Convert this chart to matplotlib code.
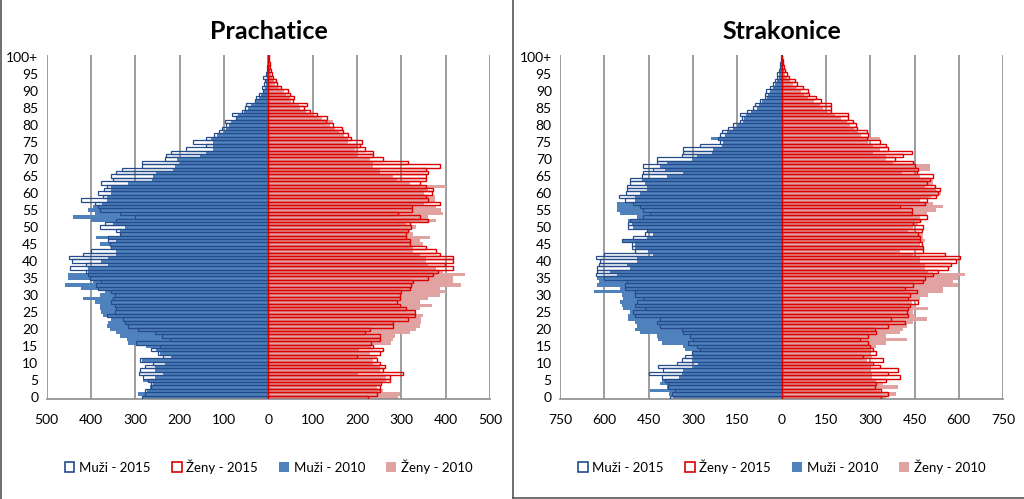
import numpy as np
import matplotlib.pyplot as plt
from matplotlib.patches import Patch

plt.rcParams['font.family'] = ['Lato', 'DejaVu Sans']

ages = np.arange(0, 101)
age_labels = [str(a) if a < 100 else '100+' for a in range(0, 101, 5)]

# Prachatice (age 0 .. 100+)
prach_muzi_2015 = [286, 279, 279, 264, 264, 271, 283, 292, 290, 279, 260, 290, 237, 248, 264, 245, 298, 223, 241, 256,
                   294, 317, 324, 328, 365, 346, 343, 346, 354, 350, 346, 354, 384, 388, 377, 403, 407, 411, 448, 411,
                   442, 450, 418, 399, 354, 358, 362, 362, 335, 343, 380, 369, 343, 301, 335, 380, 384, 392, 422, 373,
                   384, 371, 365, 377, 350, 354, 343, 331, 286, 286, 234, 230, 219, 185, 140, 171, 140, 123, 111, 104,
                   95, 98, 72, 81, 60, 52, 50, 31, 28, 21, 12, 14, 10, 8, 12, 5, 3, 3, 2, 1, 2]
prach_zeny_2015 = [225, 244, 251, 251, 255, 274, 274, 304, 259, 262, 251, 244, 199, 251, 259, 236, 232, 251, 251, 217,
                   229, 281, 281, 315, 330, 330, 311, 296, 289, 296, 296, 300, 319, 322, 326, 360, 371, 383, 417, 398,
                   417, 417, 386, 379, 356, 319, 319, 311, 311, 315, 322, 319, 360, 341, 292, 325, 325, 386, 360, 356,
                   368, 371, 356, 341, 356, 356, 360, 356, 386, 315, 259, 236, 236, 217, 206, 210, 187, 180, 168, 165,
                   146, 131, 132, 110, 93, 80, 86, 56, 57, 48, 44, 29, 20, 18, 10, 8, 5, 4, 3, 2, 2]
prach_muzi_2010 = [283, 294, 274, 267, 260, 283, 256, 237, 256, 256, 234, 286, 219, 245, 253, 275, 316, 320, 335, 343,
                   358, 365, 362, 354, 373, 377, 380, 380, 392, 418, 380, 369, 422, 458, 395, 452, 452, 407, 407, 362,
                   377, 362, 343, 343, 354, 380, 343, 388, 335, 335, 324, 350, 399, 440, 392, 407, 395, 375, 365, 365,
                   354, 354, 354, 317, 262, 260, 253, 215, 210, 200, 207, 155, 140, 125, 125, 125, 130, 117, 100, 95,
                   88, 85, 70, 68, 55, 45, 40, 28, 22, 16, 12, 8, 6, 5, 4, 3, 2, 2, 1, 1, 1]
prach_zeny_2010 = [292, 296, 259, 244, 251, 266, 266, 202, 251, 251, 236, 236, 244, 229, 205, 232, 277, 281, 286, 319,
                   334, 341, 345, 345, 349, 334, 341, 368, 341, 360, 386, 401, 386, 434, 417, 417, 443, 394, 379, 360,
                   356, 356, 341, 326, 326, 349, 341, 364, 326, 319, 334, 311, 379, 360, 394, 390, 379, 350, 375, 375,
                   350, 360, 401, 319, 289, 281, 251, 251, 236, 236, 230, 202, 202, 195, 198, 180, 180, 170, 160, 150,
                   140, 146, 120, 100, 85, 72, 70, 50, 48, 40, 35, 24, 16, 12, 8, 6, 4, 3, 2, 1, 1]

# Strakonice (age 0 .. 100+)
strak_muzi_2015 = [378, 372, 361, 384, 384, 395, 406, 448, 400, 417, 355, 338, 327, 305, 276, 288, 316, 299, 310, 333,
                   338, 412, 423, 412, 496, 502, 462, 496, 491, 470, 496, 496, 530, 530, 524, 603, 628, 626, 624, 617,
                   615, 628, 603, 496, 507, 507, 541, 502, 462, 457, 519, 519, 513, 468, 446, 468, 479, 502, 530, 549,
                   527, 522, 525, 515, 513, 474, 470, 434, 470, 423, 423, 338, 335, 333, 276, 210, 215, 209, 203, 180,
                   164, 141, 135, 141, 118, 96, 90, 73, 56, 56, 53, 40, 30, 23, 17, 15, 8, 6, 4, 2, 2]
strak_zeny_2015 = [338, 361, 338, 316, 321, 355, 400, 361, 395, 333, 310, 344, 276, 321, 310, 299, 293, 265, 293, 321,
                   316, 361, 417, 372, 429, 423, 429, 434, 462, 429, 434, 457, 417, 446, 479, 485, 513, 530, 564, 575,
                   592, 603, 553, 479, 479, 474, 468, 468, 462, 474, 479, 446, 468, 491, 440, 440, 400, 485, 491, 524,
                   530, 536, 519, 491, 502, 513, 457, 462, 451, 446, 384, 412, 440, 361, 355, 333, 288, 293, 288, 254,
                   252, 243, 226, 226, 166, 166, 166, 135, 118, 94, 90, 73, 53, 45, 26, 17, 11, 8, 5, 3, 2]
strak_muzi_2010 = [368, 383, 446, 389, 412, 406, 349, 338, 333, 299, 282, 305, 299, 299, 327, 333, 406, 417, 423, 479,
                   496, 491, 496, 519, 519, 513, 536, 541, 547, 536, 541, 635, 547, 626, 620, 626, 558, 581, 513, 524,
                   491, 491, 434, 451, 496, 496, 541, 457, 434, 451, 502, 507, 519, 491, 547, 556, 556, 558, 496, 496,
                   479, 457, 457, 462, 474, 389, 333, 395, 412, 389, 305, 288, 236, 231, 203, 197, 240, 192, 185, 165,
                   150, 130, 128, 120, 105, 85, 78, 65, 50, 45, 40, 30, 22, 15, 10, 8, 5, 3, 2, 1, 1]
strak_zeny_2010 = [355, 389, 333, 395, 344, 321, 305, 305, 299, 299, 305, 288, 305, 299, 299, 321, 355, 423, 355, 400,
                   412, 423, 445, 491, 451, 445, 496, 451, 440, 468, 496, 547, 547, 598, 581, 598, 620, 496, 485, 485,
                   468, 468, 446, 400, 479, 468, 485, 479, 479, 429, 446, 462, 474, 468, 491, 524, 547, 513, 468, 507,
                   541, 524, 485, 513, 513, 468, 406, 502, 502, 378, 355, 355, 310, 333, 310, 293, 333, 270, 260, 245,
                   230, 220, 200, 180, 150, 140, 130, 110, 90, 75, 65, 50, 38, 28, 18, 12, 8, 5, 3, 2, 1]

c_m10 = '#4F81BD'
c_z10 = '#E0A3A2'
c_m15 = '#244C8C'
c_z15 = '#DD0000'
grid_c = '#8C8C8C'

fig = plt.figure(figsize=(10.24, 4.99), dpi=100)


def pyramid(ax, m15, z15, m10, z10, lim, step, title):
    ax.barh(ages, -np.array(m10), height=1.0, color=c_m10, linewidth=0, zorder=2)
    ax.barh(ages, z10, height=1.0, color=c_z10, linewidth=0, zorder=2)
    ax.barh(ages, -np.array(m15), height=1.0, facecolor='none', edgecolor=c_m15, linewidth=0.9, zorder=3)
    ax.barh(ages, z15, height=1.0, facecolor='none', edgecolor=c_z15, linewidth=1.0, zorder=3)
    ax.set_xlim(-lim, lim)
    ax.set_ylim(-0.5, 100.5)
    ticks = np.arange(-lim, lim + 1, step)
    ax.set_xticks(ticks)
    ax.set_xticklabels([str(abs(int(t))) for t in ticks])
    ax.set_yticks(range(0, 101, 5))
    ax.set_yticklabels(age_labels)
    ax.tick_params(length=0, labelsize=10, colors='black')
    ax.tick_params(axis='x', pad=11)
    ax.tick_params(axis='y', pad=6)
    for t in ticks:
        ax.axvline(t, color=grid_c, linewidth=1.2, zorder=1)
    for s in ['top', 'left', 'right']:
        ax.spines[s].set_visible(False)
    ax.spines['bottom'].set_color(grid_c)
    ax.spines['bottom'].set_linewidth(1.2)
    ax.set_title(title, fontsize=18, fontweight='bold', pad=12)
    handles = [Patch(facecolor='white', edgecolor=c_m15, linewidth=1.2, label='Muži - 2015'),
               Patch(facecolor='white', edgecolor=c_z15, linewidth=1.2, label='Ženy - 2015'),
               Patch(facecolor=c_m10, edgecolor='none', label='Muži - 2010'),
               Patch(facecolor=c_z10, edgecolor='none', label='Ženy - 2010')]
    ax.legend(handles=handles, loc='upper center', bbox_to_anchor=(0.5, -0.14), ncol=4, frameon=False,
              fontsize=9.5, handlelength=0.75, handleheight=0.8, handletextpad=0.35, columnspacing=1.6)


ax1 = fig.add_axes([0.0456, 0.2004, 0.433, 0.689])
pyramid(ax1, prach_muzi_2015, prach_zeny_2015, prach_muzi_2010, prach_zeny_2010, 500, 100, 'Prachatice')

ax2 = fig.add_axes([0.547, 0.2004, 0.4326, 0.689])
pyramid(ax2, strak_muzi_2015, strak_zeny_2015, strak_muzi_2010, strak_zeny_2010, 750, 150, 'Strakonice')

# panel frames
fig.add_artist(plt.Line2D([0.001, 0.001], [0, 1], color='#555555', linewidth=1.2))
fig.add_artist(plt.Line2D([0.501, 0.501], [0, 1], color='#555555', linewidth=1.2))
fig.add_artist(plt.Line2D([0.501, 1], [0.003, 0.003], color='#555555', linewidth=1.2))

fig.savefig('out.png', dpi=100)
